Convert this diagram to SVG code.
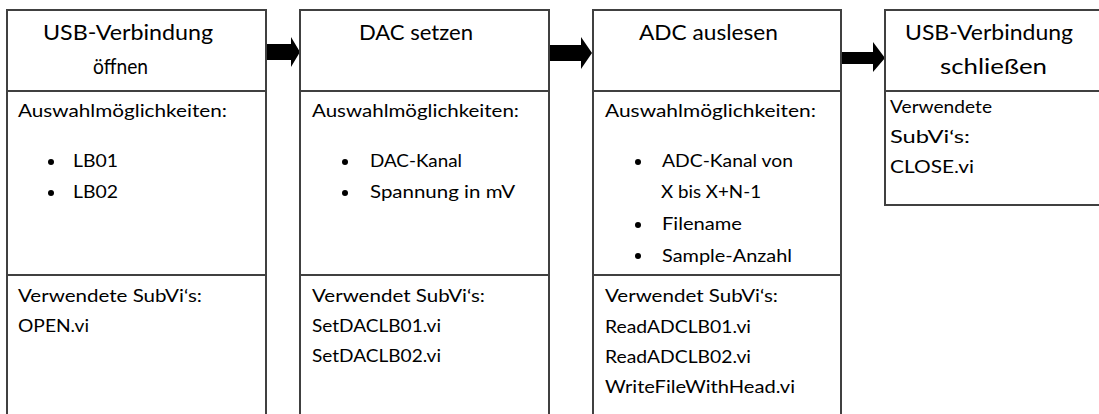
<svg xmlns="http://www.w3.org/2000/svg" width="1099" height="414" viewBox="0 0 1099 414">
<style>
.box{fill:#fff;stroke:#404040;stroke-width:2}
.div{stroke:#404040;stroke-width:2}
.t{font-family:Lato,"Open Sans",sans-serif;fill:#000}
.h{font-size:21px}
.b{font-size:17.5px}
.arr{fill:#000}
.dot{fill:#000}
</style>
<rect width="1099" height="414" fill="#fff"/>
<g id="connectors">
<polygon class="arr" points="267,44 291,44 291,37 300,52 291,67 291,60 267,60"/>
<polygon class="arr" points="550,45 581,45 581,37 592,53 581,69 581,61 550,61"/>
<polygon class="arr" points="842,52 873,52 873,42 885,58 873,72 873,64 842,64"/>
</g>
<g id="node1">
<rect class="box" x="7" y="10" width="259" height="420"/>
<line class="div" x1="7" y1="91" x2="266" y2="91"/>
<line class="div" x1="7" y1="275" x2="266" y2="275"/>
<text class="t h" x="43" y="39.5" textLength="170" lengthAdjust="spacingAndGlyphs">USB-Verbindung</text>
<text class="t h" x="93" y="73.5" textLength="55" lengthAdjust="spacingAndGlyphs">öffnen</text>
<text class="t b" x="18" y="117" textLength="209" lengthAdjust="spacingAndGlyphs">Auswahlmöglichkeiten:</text>
<circle class="dot" cx="51" cy="162" r="3"/>
<text class="t b" x="73" y="167" textLength="45" lengthAdjust="spacingAndGlyphs">LB01</text>
<circle class="dot" cx="51" cy="193" r="3"/>
<text class="t b" x="73" y="198" textLength="45" lengthAdjust="spacingAndGlyphs">LB02</text>
<text class="t b" x="18" y="302" textLength="184" lengthAdjust="spacingAndGlyphs">Verwendete SubVi‘s:</text>
<text class="t b" x="18" y="332" textLength="71" lengthAdjust="spacingAndGlyphs">OPEN.vi</text>
</g>
<g id="node2">
<rect class="box" x="300" y="10" width="249" height="420"/>
<line class="div" x1="300" y1="91" x2="549" y2="91"/>
<line class="div" x1="300" y1="275" x2="549" y2="275"/>
<text class="t h" x="359" y="40" textLength="114" lengthAdjust="spacingAndGlyphs">DAC setzen</text>
<text class="t b" x="312" y="117" textLength="207" lengthAdjust="spacingAndGlyphs">Auswahlmöglichkeiten:</text>
<circle class="dot" cx="345" cy="162" r="3"/>
<text class="t b" x="370" y="167" textLength="92" lengthAdjust="spacingAndGlyphs">DAC-Kanal</text>
<circle class="dot" cx="345" cy="193" r="3"/>
<text class="t b" x="370" y="198" textLength="145" lengthAdjust="spacingAndGlyphs">Spannung in mV</text>
<text class="t b" x="312" y="302" textLength="173" lengthAdjust="spacingAndGlyphs">Verwendet SubVi‘s:</text>
<text class="t b" x="312" y="332" textLength="129" lengthAdjust="spacingAndGlyphs">SetDACLB01.vi</text>
<text class="t b" x="312" y="362" textLength="129" lengthAdjust="spacingAndGlyphs">SetDACLB02.vi</text>
</g>
<g id="node3">
<rect class="box" x="593" y="10" width="248" height="420"/>
<line class="div" x1="593" y1="91" x2="841" y2="91"/>
<line class="div" x1="593" y1="275" x2="841" y2="275"/>
<text class="t h" x="639" y="40" textLength="139" lengthAdjust="spacingAndGlyphs">ADC auslesen</text>
<text class="t b" x="605" y="117" textLength="211" lengthAdjust="spacingAndGlyphs">Auswahlmöglichkeiten:</text>
<circle class="dot" cx="638" cy="162" r="3"/>
<text class="t b" x="662" y="167" textLength="131" lengthAdjust="spacingAndGlyphs">ADC-Kanal von</text>
<text class="t b" x="661" y="198" textLength="100" lengthAdjust="spacingAndGlyphs">X bis X+N-1</text>
<circle class="dot" cx="638" cy="225" r="3"/>
<text class="t b" x="662" y="230" textLength="80" lengthAdjust="spacingAndGlyphs">Filename</text>
<circle class="dot" cx="638" cy="256" r="3"/>
<text class="t b" x="662" y="262" textLength="130" lengthAdjust="spacingAndGlyphs">Sample-Anzahl</text>
<text class="t b" x="605" y="302" textLength="173" lengthAdjust="spacingAndGlyphs">Verwendet SubVi‘s:</text>
<text class="t b" x="605" y="333" textLength="146" lengthAdjust="spacingAndGlyphs">ReadADCLB01.vi</text>
<text class="t b" x="605" y="363" textLength="146" lengthAdjust="spacingAndGlyphs">ReadADCLB02.vi</text>
<text class="t b" x="605" y="393" textLength="190" lengthAdjust="spacingAndGlyphs">WriteFileWithHead.vi</text>
</g>
<g id="node4">
<rect class="box" x="885" y="10" width="230" height="195"/>
<line class="div" x1="885" y1="91" x2="1115" y2="91"/>
<text class="t h" x="905" y="39.5" textLength="168" lengthAdjust="spacingAndGlyphs">USB-Verbindung</text>
<text class="t h" x="940" y="74" textLength="107" lengthAdjust="spacingAndGlyphs">schließen</text>
<text class="t b" x="890" y="113" textLength="102" lengthAdjust="spacingAndGlyphs">Verwendete</text>
<text class="t b" x="890" y="143" textLength="80" lengthAdjust="spacingAndGlyphs">SubVi‘s:</text>
<text class="t b" x="890" y="173" textLength="84" lengthAdjust="spacingAndGlyphs">CLOSE.vi</text>
</g>
</svg>
